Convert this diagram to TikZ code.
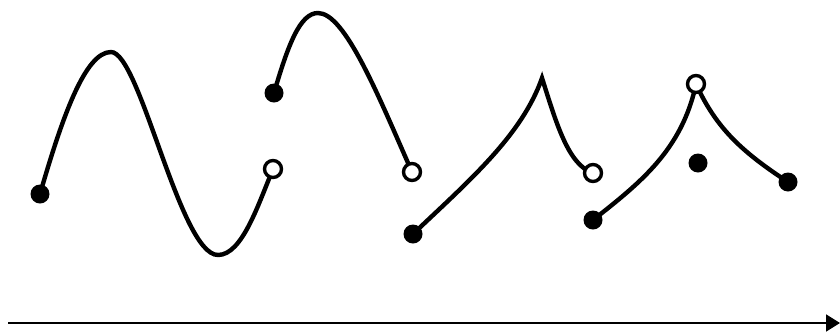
\documentclass[tikz,border=0pt]{standalone}
\usetikzlibrary{arrows.meta}
\begin{document}
\begin{tikzpicture}[x=1pt,y=-1pt,
  curve/.style={line width=4.4pt,line cap=round},
  fdot/.style={circle,fill=black,inner sep=0pt,minimum size=19pt},
  odot/.style={circle,draw=black,line width=3.4pt,fill=white,inner sep=0pt,minimum size=17pt},
  axisline/.style={line width=1.8pt,-{Triangle[length=14pt,width=17pt]}}]
\useasboundingbox (0,0) rectangle (840,333);
% curve 1
\coordinate (a1) at (40,194);
\coordinate (a2) at (111,52);
\coordinate (a3) at (218,255);
\coordinate (a4) at (273,169);
\draw[curve] (a1) .. controls (62,118) and (85,52) .. (a2)
  .. controls (140,52) and (180,255) .. (a3)
  .. controls (242,255) and (258,205) .. (a4);
% curve 2
\coordinate (b1) at (274,93);
\coordinate (b2) at (318,13);
\coordinate (b3) at (412,172);
\draw[curve] (b1) .. controls (288,45) and (300,13) .. (b2)
  .. controls (345,13) and (378,95) .. (b3);
% curve 3
\coordinate (c1) at (413,234);
\coordinate (c2) at (542,78);
\coordinate (c3) at (593,173);
\draw[curve] (c1) .. controls (470,180) and (522,135) .. (c2)
  .. controls (556,122) and (568,165) .. (c3);
% curve 4
\coordinate (d1) at (593,220);
\coordinate (d2) at (696,84);
\coordinate (d3) at (788,182);
\draw[curve] (d1) .. controls (640,183) and (682,150) .. (d2)
  .. controls (716,128) and (742,152) .. (d3);
% dots
\node[fdot] (p1) at (a1) {};
\node[odot] (p2) at (a4) {};
\node[fdot] (p3) at (b1) {};
\node[odot] (p4) at (b3) {};
\node[fdot] (p5) at (c1) {};
\node[odot] (p6) at (c3) {};
\node[fdot] (p7) at (d1) {};
\node[odot] (p8) at (d2) {};
\node[fdot] (p9) at (d3) {};
\node[fdot] (p10) at (698,163) {};
% axis
\coordinate (x0) at (8,323);
\coordinate (x1) at (840,323);
\draw[axisline] (x0) -- (x1);
\end{tikzpicture}
\end{document}
